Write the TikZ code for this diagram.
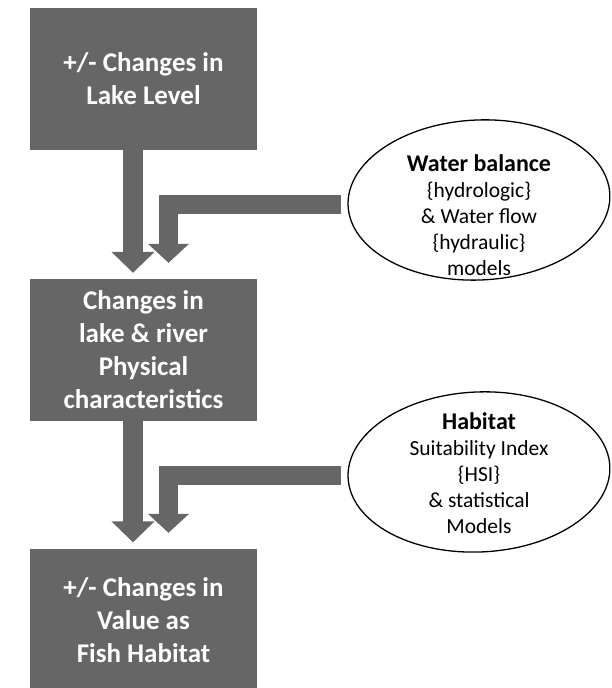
\documentclass[tikz,border=0pt]{standalone}
\usepackage{fontspec}
\setmainfont{Carlito}
\usetikzlibrary{arrows.meta,calc}
\definecolor{boxgray}{RGB}{102,102,102}
\tikzset{
  stage/.style={fill=boxgray,minimum width=227pt,minimum height=142pt,inner sep=0pt,
    text=white,align=center,font=\bfseries\fontsize{27}{33}\selectfont},
  model/.style={align=center,inner sep=0pt,font=\fontsize{21.5}{26}\selectfont},
  flow/.style={draw=boxgray,line width=20pt,-{Triangle[width=42pt,length=21pt]}},
  feed/.style={draw=boxgray,line width=19pt,-{Triangle[width=40pt,length=19pt]}},
}
\newcommand{\hdline}[1]{{\bfseries\fontsize{24}{29}\selectfont #1}}

\begin{document}
\begin{tikzpicture}[x=1pt,y=-1pt]
\useasboundingbox (0,0) rectangle (611,688);
% stages
\node[stage] (lvl) at (143.5,79) {+/- Changes in\\Lake Level};
\node[stage] (phys) at (143.5,350) {Changes in\\lake \& river\\Physical\\characteristics};
\node[stage] (fish) at (143.5,620) {+/- Changes in\\Value as\\Fish Habitat};
%
% models
\coordinate (wbc) at (479,200);
\coordinate (hsic) at (479,472);
\draw[line width=1.3pt,fill=white,rotate around={2.5:(wbc)}] (wbc) ellipse [x radius=131pt,y radius=80pt];
\draw[line width=1.3pt,fill=white,rotate around={2.5:(hsic)}] (hsic) ellipse [x radius=131pt,y radius=80pt];
\node[model] (wb) at (479,215) {\hdline{Water balance}\\\{hydrologic\}\\\& Water flow\\\{hydraulic\}\\models};
\node[model] (hsi) at (479,473) {\hdline{Habitat}\\Suitability Index\\\{HSI\}\\\& statistical\\Models};
%
% arrows
\draw[flow,shorten >=6pt] ([xshift=-10.5pt]lvl.south) -- ([xshift=-10.5pt]phys.north);
\draw[flow,shorten >=6.5pt] ([xshift=-10.5pt]phys.south) -- ([xshift=-10.5pt]fish.north);
\coordinate (wbin) at ($(wbc)+(-138,4)$);
\coordinate (hsiin) at ($(hsic)+(-138,3)$);
\draw[feed,shorten >=16pt] (wbin) -| ([xshift=25pt]phys.north);
\draw[feed,shorten >=16pt] (hsiin) -| ([xshift=25pt]fish.north);
\end{tikzpicture}
\end{document}
